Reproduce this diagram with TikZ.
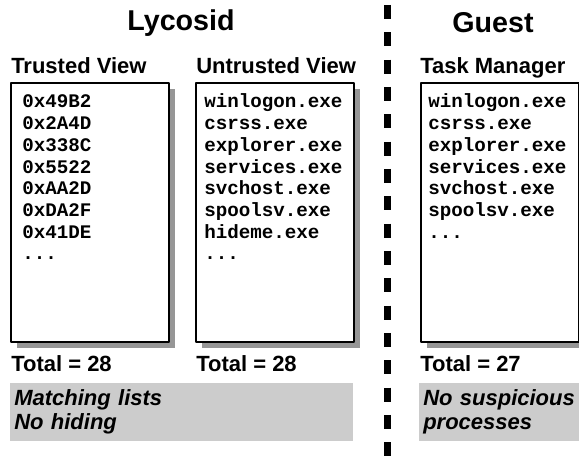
\documentclass[tikz,border=0pt]{standalone}
\usepackage{fontspec}
\setmainfont{Liberation Sans}
\setmonofont{Liberation Mono}
\usetikzlibrary{shadows}
\definecolor{notegray}{RGB}{204,204,204}
\definecolor{shadegray}{RGB}{150,150,150}
\newcommand\moreprocs{...}

\begin{document}
\begin{tikzpicture}[x=0.75pt,y=-0.75pt,line join=round,
	title/.style={font=\bfseries\fontsize{21.5}{24}\selectfont, inner sep=0pt},
	head/.style={font=\bfseries\fontsize{16.5}{18}\selectfont, anchor=base west, inner sep=0pt},
	panel/.style={draw, line width=1.7pt, fill=white, anchor=north west, minimum width=118.5pt, minimum height=194.25pt,
		drop shadow={shadow xshift=4.5pt, shadow yshift=-4.5pt, fill=shadegray, opacity=1}},
	entry/.style={font=\ttfamily\bfseries\fontsize{14.4}{16}\selectfont, anchor=base west, inner sep=0pt},
	note/.style={fill=notegray, anchor=north west, align=left, inner xsep=3pt, inner ysep=0pt, minimum height=43.5pt,
		font=\bfseries\itshape\fontsize{16.5}{18}\selectfont},
	divider/.style={line width=5.25pt, dash pattern=on 10.5pt off 10pt}]
	\useasboundingbox (0,0) rectangle (579,459);
	\def\ystep{21.7}
	% titles
	\node[title] (lycosid) at (181,23) {Lycosid};
	\node[title] (guest) at (493,23) {Guest};
	\node[head] (trustedhead) at (11,73.5) {Trusted View};
	\node[head] (untrustedhead) at (196,73.5) {Untrusted View};
	\node[head] (taskhead) at (420,73.5) {Task Manager};
	% divider
	\coordinate (divtop) at (387.5,5);
	\coordinate (divbot) at (387.5,459);
	\draw[divider] (divtop) -- (divbot);
	% process lists
	\node[panel] (trusted) at (10,82) {};
	\node[panel] (untrusted) at (195,82) {};
	\node[panel] (taskmgr) at (420,82) {};
	\foreach \t [count=\i from 0] in {0x49B2,0x2A4D,0x338C,0x5522,0xAA2D,0xDA2F,0x41DE,\moreprocs}
		\node[entry] (tv\i) at (22,108+\ystep*\i) {\t};
	\foreach \t [count=\i from 0] in {winlogon.exe,csrss.exe,explorer.exe,services.exe,svchost.exe,spoolsv.exe,hideme.exe,\moreprocs}
		\node[entry] (uv\i) at (204,108+\ystep*\i) {\t};
	\foreach \t [count=\i from 0] in {winlogon.exe,csrss.exe,explorer.exe,services.exe,svchost.exe,spoolsv.exe,\moreprocs}
		\node[entry] (tm\i) at (428,108+\ystep*\i) {\t};
	% totals
	\node[head] (trustedtotal) at (11,372) {Total = 28};
	\node[head] (untrustedtotal) at (196,372) {Total = 28};
	\node[head] (tasktotal) at (420,372) {Total = 27};
	% verdicts
	\node[note, text width=251.25pt] (lycosidnote) at (10,383) {Matching lists\\No hiding};
	\node[note, text width=114pt] (guestnote) at (419,383) {No suspicious\\processes};
\end{tikzpicture}
\end{document}
